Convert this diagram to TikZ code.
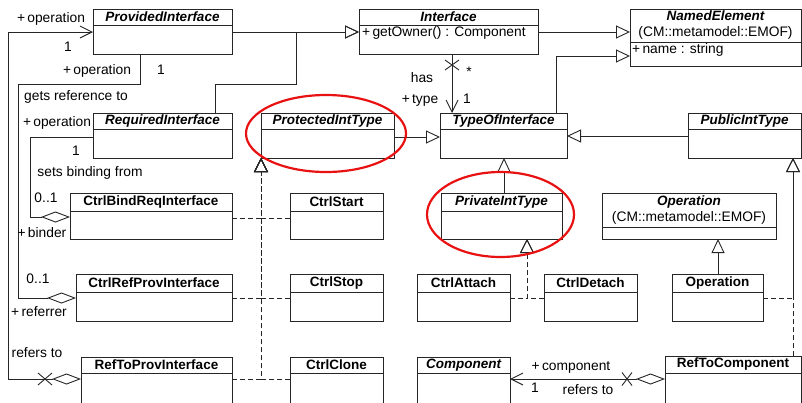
\documentclass[tikz,border=0pt]{standalone}
\usepackage{fontspec}
\setmainfont{Liberation Sans}
\usetikzlibrary{arrows.meta,fit}

% UML class: name, x1, y1, x2, y2, divider y, title
\newcommand{\umlcls}[7]{%
  \path (#2,#3) coordinate (#1-a) (#4,#5) coordinate (#1-b);
  \node[clsbox, fit=(#1-a)(#1-b)] (#1) {};
  \draw[clsline] (#1.west |- 0,#6) -- (#1.east |- 0,#6);
  \node[clstitle] (#1-t) at ({(#2+#4)/2},{(#3+#6)/2}) {#7};
}
% non-navigable end mark
\newcommand{\navcross}[3]{%
  \draw[clsline] (#1) +(-#2,-#3) -- +(#2,#3) +(-#2,#3) -- +(#2,-#3);
}
\newcommand{\bi}[1]{{\fontsize{13.5}{16}\selectfont\bfseries\itshape #1}}
\newcommand{\bu}[1]{{\fontsize{13.5}{16}\selectfont\bfseries #1}}

\begin{document}
\begin{tikzpicture}[x=1pt,y=-1pt,
  every node/.style={font=\fontsize{13.8}{16}\selectfont, inner sep=0pt},
  lbl/.style={text height=9.8pt, text depth=2.8pt},
  clsbox/.style={draw=black!85, line width=0.9pt, inner sep=0pt, outer sep=0pt},
  clsline/.style={draw=black!85, line width=0.9pt},
  clstitle/.style={align=center},
  gen/.style={clsline, -{Triangle[open, length=14pt, width=13pt]}, line join=miter},
  real/.style={clsline, dash pattern=on 5pt off 3pt, -{Triangle[open, length=14pt, width=14pt]}},
  agg/.style={clsline, {Diamond[open, length=29pt, width=11pt]}-},
  aggnav/.style={clsline, {Diamond[open, length=29pt, width=11pt]}-{Straight Barb[length=12pt, width=12pt]}},
  nav/.style={clsline, -{Straight Barb[length=12pt, width=12pt]}},
  hl/.style={draw={rgb,255:red,232;green,18;blue,18}, line width=2.2pt},
]
\useasboundingbox (0,0) rectangle (802,402);

% ---- classes ----
\umlcls{pi}{93}{9}{232}{54}{25}{\bi{ProvidedInterface}}
\umlcls{if}{359}{9}{538}{54}{25}{\bi{Interface}}
\umlcls{ne}{630}{9}{801}{66}{42}{\bi{NamedElement}\\(CM::metamodel::EMOF)}
\umlcls{ri}{93}{113}{232}{158}{129}{\bi{RequiredInterface}}
\umlcls{pt}{261}{113}{394}{158}{129}{\bi{ProtectedIntType}}
\umlcls{ti}{440}{113}{567}{158}{129}{\bi{TypeOfInterface}}
\umlcls{pu}{688}{113}{801}{158}{129}{\bi{PublicIntType}}
\umlcls{cb}{70}{193}{232}{239}{211}{\bu{CtrlBindReqInterface}}
\umlcls{cs}{290}{193}{383}{239}{211}{\bu{CtrlStart}}
\umlcls{pv}{441}{193}{562}{239}{211}{\bi{PrivateIntType}}
\umlcls{op}{602}{193}{776}{239}{227}{\bi{Operation}\\(CM::metamodel::EMOF)}
\umlcls{cr}{76}{274}{232}{321}{292}{\bu{CtrlRefProvInterface}}
\umlcls{cp}{290}{274}{383}{321}{292}{\bu{CtrlStop}}
\umlcls{ca}{417}{274}{510}{321}{292}{\bu{CtrlAttach}}
\umlcls{cd}{544}{274}{637}{321}{292}{\bu{CtrlDetach}}
\umlcls{oc}{672}{274}{763}{321}{292}{\bu{Operation}}
\umlcls{rp}{81}{357}{232}{406}{373}{\bu{RefToProvInterface}}
\umlcls{cc}{290}{357}{383}{406}{373}{\bu{CtrlClone}}
\umlcls{co}{417}{357}{510}{406}{373}{\bi{Component}}
\umlcls{rc}{665}{356}{801}{406}{373}{\bu{RefToComponent}}

% attributes
\node[lbl, anchor=west] (if-a) at (362,33) {+\,getOwner() : Component};
\node[lbl, anchor=west] (ne-a) at (632,50) {+\,name : string};

% ---- generalizations ----
\draw[gen] (pi.east |- 0,32) -- (if.west |- 0,32);
\draw[gen] (ri.north -| 215,0) |- (296,84) |- (if.west |- 0,32);
\draw[gen] (if.east |- 0,32) -- (ne.west |- 0,32);
\draw[gen] (ti.north -| 556,0) |- (ne.west |- 0,56);
\draw[gen] (pt.east |- 0,137) -- (ti.west |- 0,137);
\draw[gen] (pu.west |- 0,136) -- (ti.east |- 0,136);
\draw[gen] (pv.north -| 504,0) -- (ti.south -| 504,0);
\draw[gen] (oc.north -| 718,0) -- (op.south -| 718,0);

% ---- realizations ----
\draw[real] (cb.east |- 0,218) -| (pt.south west);
\draw[real] (cs.west |- 0,218) -| (pt.south west);
\draw[real] (cr.east |- 0,298) -| (pt.south west);
\draw[real] (cp.west |- 0,298) -| (pt.south west);
\draw[real] (rp.east |- 0,379) -| (pt.south west);
\draw[real] (cc.west |- 0,379) -| (pt.south west);
\draw[real] (ca.east |- 0,298) -| (pv.south -| 527,0);
\draw[real] (cd.west |- 0,298) -| (pv.south -| 527,0);
\draw[real] (oc.east |- 0,298) -| (pu.south -| 793,0);
\draw[real] (rc.north -| 793,0) -- (pu.south -| 793,0);

% ---- associations ----
\draw[nav] (if.south -| 452,0) -- (ti.north -| 452,0);
\navcross{452,65}{7}{5}
\draw[aggnav] (rc.west |- 0,379) -- (co.east |- 0,379);
\navcross{627,379}{5}{6.5}
\draw[aggnav] (rp.west |- 0,379) -- (8,379) |- (pi.west |- 0,32);
\navcross{45,379}{7}{6}
\draw[agg] (cr.west |- 0,298) -| (18,84) -| (pi.south -| 140,0);
\draw[agg] (cb.west |- 0,217) -| (30,137) -- (ri.west |- 0,137);

% ---- association labels ----
\node[lbl] (l-op1) at (51,19) {+\,operation};
\node[lbl] (l-m1) at (68,48) {1};
\node[lbl] (l-op2) at (97,71) {+\,operation};
\node[lbl] (l-m2) at (161,71) {1};
\node[lbl] (l-gets) at (76,97) {gets reference to};
\node[lbl] (l-op3) at (57,123) {+\,operation};
\node[lbl] (l-m3) at (76,152) {1};
\node[lbl] (l-sets) at (90,173) {sets binding from};
\node[lbl] (l-m4) at (46,199) {0..1};
\node[lbl] (l-binder) at (42,234) {+\,binder};
\node[lbl] (l-m5) at (38,280) {0..1};
\node[lbl] (l-referrer) at (39,313) {+\,referrer};
\node[lbl] (l-refers1) at (37,354) {refers to};
\node[lbl] (l-has) at (422,79) {has};
\node[lbl] (l-type) at (420,100) {+\,type};
\node[lbl] (l-star) at (469,73) {*};
\node[lbl] (l-m6) at (467,100) {1};
\node[lbl] (l-comp) at (571,367) {+\,component};
\node[lbl] (l-m7) at (535,389) {1};
\node[lbl] (l-refers2) at (588,391) {refers to};

% ---- highlight rings ----
\draw[hl] (326,133.5) ellipse [x radius=80pt, y radius=38.5pt];
\draw[hl] (500.5,214.5) ellipse [x radius=73.5pt, y radius=42.5pt];
\end{tikzpicture}
\end{document}
